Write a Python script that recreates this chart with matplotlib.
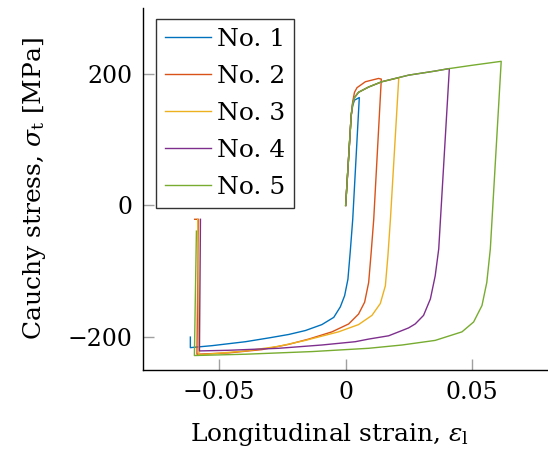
import matplotlib
matplotlib.use("Agg")
import matplotlib.pyplot as plt

# colours (MATLAB default order)
colors = ["#0072BD", "#D95319", "#EDB120", "#7E2F8E", "#77AC30"]
labels = ["No. 1", "No. 2", "No. 3", "No. 4", "No. 5"]

# strain / stress pairs, one list per specimen
x1 = [0, 0.0022, 0.0028, 0.0035, 0.0054, 0.0028, 0.0018, 0.0009, -0.0004,
      -0.0021, -0.0047, -0.0094, -0.0159, -0.0225, -0.0300, -0.0396, -0.0528,
      -0.0614, -0.0614]
y1 = [0, 137, 152, 160, 164, -21, -71, -112, -137,
      -154, -170, -181, -190, -196, -201, -207, -213,
      -216, -200]

x2 = [0, 0.0022, 0.0028, 0.0035, 0.0045, 0.0078, 0.0130, 0.0141, 0.0111,
      0.0101, 0.0091, 0.0075, 0.0051, 0.0012, -0.0054, -0.0146, -0.0225,
      -0.0331, -0.0462, -0.0588, -0.0582, -0.0597]
y2 = [0, 137, 158, 172, 179, 188, 193, 192, -21,
      -71, -117, -147, -165, -180, -192, -203, -211,
      -219, -224, -226, -21, -21]

x3 = [0, 0.0022, 0.0028, 0.0035, 0.0051, 0.0091, 0.0143, 0.0210, 0.0177,
      0.0167, 0.0157, 0.0137, 0.0104, 0.0051, -0.0028, -0.0159, -0.0265,
      -0.0396, -0.0580, -0.0585]
y3 = [0, 137, 155, 164, 172, 180, 188, 194, -21,
      -77, -122, -149, -167, -181, -192, -205, -214,
      -221, -227, -21]

x4 = [0, 0.0022, 0.0028, 0.0035, 0.0051, 0.0091, 0.0143, 0.0249, 0.0350,
      0.0410, 0.0368, 0.0354, 0.0335, 0.0308, 0.0275, 0.0249, 0.0223, 0.0170,
      0.0091, 0.0038, -0.0094, -0.0265, -0.0462, -0.0578, -0.0574]
y4 = [0, 137, 155, 164, 172, 180, 188, 198, 204,
      208, -66, -107, -142, -167, -180, -186, -190, -198,
      -203, -207, -212, -217, -220, -221, -21]

x5 = [0, 0.0022, 0.0028, 0.0035, 0.0051, 0.0091, 0.0143, 0.0249, 0.0350,
      0.0410, 0.0500, 0.0615, 0.0572, 0.0558, 0.0539, 0.0506, 0.0460, 0.0354,
      0.0223, 0.0091, -0.0133, -0.0396, -0.0598, -0.0590]
y5 = [0, 137, 155, 164, 172, 180, 188, 198, 204,
      208, 213, 219, -66, -117, -152, -177, -192, -205,
      -212, -217, -222, -226, -228, -39]

xticks = [-0.05, 0, 0.05]
xticklabels = ["\u22120.05", "0", "0.05"]
yticks = [-200, 0, 200]
yticklabels = ["\u2212200", "0", "200"]

plt.rcParams["font.family"] = ["DejaVu Serif"]
plt.rcParams["mathtext.fontset"] = "dejavuserif"

fig = plt.figure(figsize=(5.48, 4.53), dpi=100)
ax = fig.add_axes([0.2615, 0.1832, 0.7385, 0.7991])

for xs, ys, c, lab in zip([x1, x2, x3, x4, x5], [y1, y2, y3, y4, y5], colors, labels):
    ax.plot(xs, ys, color=c, lw=1.0, label=lab)

ax.set_xlim(-0.08, 0.08)
ax.set_ylim(-250, 300)
ax.set_xticks(xticks)
ax.set_xticklabels(xticklabels)
ax.set_yticks(yticks)
ax.set_yticklabels(yticklabels)

#Only left and bottom axis lines
ax.spines["top"].set_visible(False)
ax.spines["right"].set_visible(False)
ax.spines["left"].set_linewidth(1.0)
ax.spines["bottom"].set_linewidth(1.0)
ax.tick_params(direction="in", length=8, width=1.0, color="#a0a0a0",
               labelsize=17, pad=8)

ax.set_xlabel(r"Longitudinal strain, $\varepsilon_\mathrm{l}$", fontsize=18)
ax.xaxis.set_label_coords(0.461, -0.14)
ax.set_ylabel(r"Cauchy stress, $\sigma_\mathrm{t}$ [MPa]", fontsize=18)
ax.yaxis.set_label_coords(-0.235, 0.5)

leg = ax.legend(loc="upper left", bbox_to_anchor=(0.031, 0.969), borderaxespad=0,
                fontsize=18, handlelength=1.85, handletextpad=0.25,
                labelspacing=0.56, borderpad=0.35, fancybox=False, framealpha=1)
leg.get_frame().set_edgecolor("#333333")
leg.get_frame().set_linewidth(1.0)

fig.savefig("out.png", dpi=100)
